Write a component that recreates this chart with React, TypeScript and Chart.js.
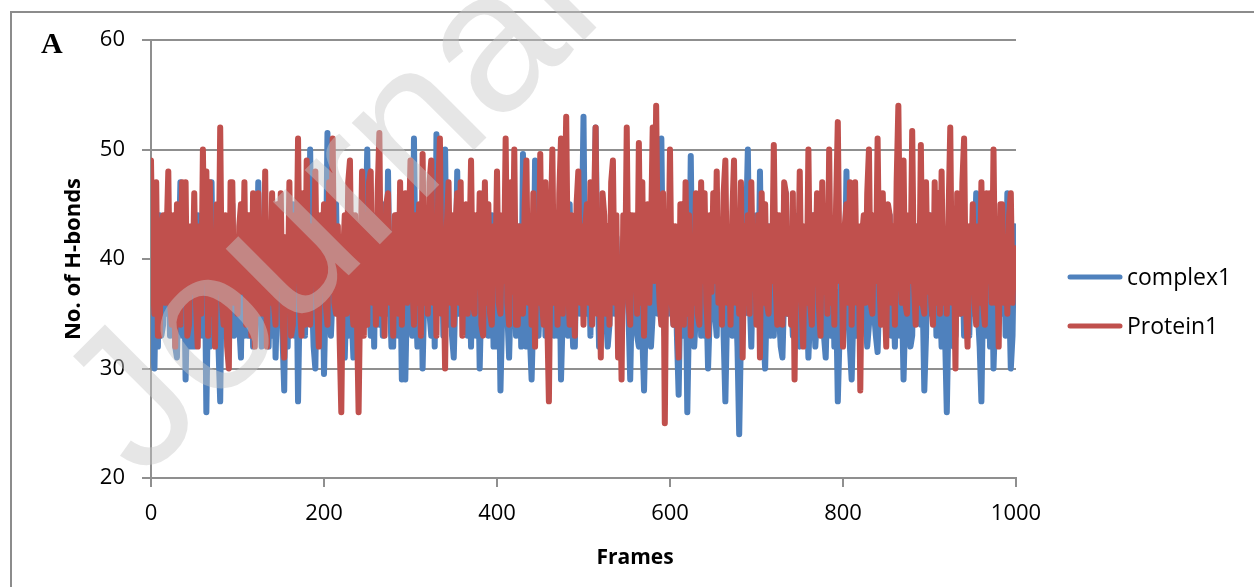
import React, { useEffect, useRef } from "react";
import { Chart, registerables } from "chart.js";

Chart.register(...registerables);

// Frames sampled every 2 frames (0..1000)
const FRAMES: number[] = Array.from({ length: 501 }, (_, i) => i * 2);

const X_TICKS = [0, 200, 400, 600, 800, 1000];
const Y_TICKS = [20, 30, 40, 50, 60];

const COMPLEX1: number[] = [
  37, 32, 30, 40, 32, 44, 33, 34, 43, 35, 44, 33, 35, 43, 32, 31, 40, 47, 33, 42, 29, 37, 42, 32, 43,
  32, 42, 44, 33, 40, 33, 42, 26, 37, 32, 47, 35, 37, 44, 32, 27, 40, 43, 33, 42, 32, 43, 45, 33, 40,
  37, 34, 31, 42, 33, 44, 33, 33, 43, 32, 43, 35, 47, 37, 32, 34, 42, 43, 32, 40, 33, 43, 31, 37, 42,
  44, 33, 28, 40, 32, 42, 35, 45, 33, 42, 27, 37, 40, 44, 33, 44, 35, 50, 37, 32, 30, 40, 43, 33, 42,
  29.5, 37, 51.5, 40, 33, 37, 43, 45, 35, 42, 32, 42, 31, 37, 33, 43, 35, 31, 40, 32, 42, 33, 44, 35, 42,
  50, 37, 33, 43, 32, 44, 35, 34, 42, 33, 45, 35, 48, 37, 32, 32, 42, 44, 33, 40, 29, 35, 29, 37, 42,
  42, 33, 51, 37, 32, 35, 43, 30, 37, 42, 44, 35, 33, 43, 32, 51.4, 37, 37, 43, 33, 50, 37, 34, 40, 33,
  31, 37, 48, 35, 42, 35, 43, 43, 33, 40, 32, 42, 43, 33, 40, 30, 37, 46, 35, 42, 33, 42, 44, 32, 40,
  32, 40, 28, 35, 42, 44, 35, 31, 37, 43, 42, 33, 35, 43, 32, 49.6, 37, 32, 42, 33, 29, 35, 49, 37, 33,
  37, 43, 44, 33, 40, 34, 42, 44, 33, 40, 33, 42, 29, 35, 43, 42, 33, 45, 37, 32, 32, 42, 43, 35, 42,
  53, 37, 35, 43, 33, 44, 37, 52, 40, 32, 33, 42, 43, 35, 32, 34, 40, 45, 35, 42, 37, 32, 33, 40, 43,
  44, 35, 29, 37, 43, 42, 33, 32, 40, 33, 28, 35, 44, 37, 32, 35, 42, 44, 35, 40, 51, 37, 33, 42, 35,
  43, 37, 34, 40, 33, 27.6, 37, 43, 33, 40, 26, 35, 49.4, 37, 32, 35, 42, 44, 33, 40, 33, 37, 30, 35, 42,
  44, 35, 33, 42, 37, 43, 33, 27, 35, 42, 37, 33, 43, 37, 32, 24, 33, 42, 35, 43, 50, 37, 32, 40, 35,
  44, 35, 48, 37, 33, 30, 37, 43, 33, 40, 33, 42, 43, 35, 32, 31, 37, 46, 35, 42, 37, 33, 44, 37, 33,
  32, 40, 42, 33, 37, 31, 35, 44, 37, 32, 35, 42, 44, 35, 33, 31, 37, 40, 33, 42, 32, 37, 27, 33, 42,
  43, 37, 48, 35, 32, 29, 35, 42, 33, 40, 33, 42, 43, 35, 32, 34, 40, 43, 35, 33, 31.5, 37, 44, 35, 42,
  35, 40, 44, 33, 37, 32, 40, 42, 33, 37, 29, 35, 43, 37, 32, 33, 42, 43, 35, 40, 34, 37, 28, 33, 42,
  44, 35, 35, 42, 33, 46, 37, 32, 40, 33, 26, 35, 43, 37, 32, 33, 42, 43, 35, 40, 33, 37, 42, 33, 40,
  35, 40, 46, 35, 32, 27, 37, 43, 33, 40, 32, 42, 30, 35, 42, 43, 37, 35, 42, 33, 46, 37, 30, 33, 43,
  41,
];

const PROTEIN1: number[] = [
  49, 38, 35, 47, 33, 33, 43, 44, 36, 42, 48, 36, 34, 44, 32, 45, 38, 34, 47, 36, 47, 33, 34, 43, 37,
  46, 36, 32, 43, 35, 50, 38, 48, 33, 47, 35, 42, 32, 45, 37, 52, 36, 34, 44, 32, 30, 47, 47, 36, 42,
  35, 43, 45, 37, 47, 34, 44, 44, 33, 46, 32, 42, 46, 35, 40, 35, 48, 32, 43, 36, 46, 36, 34, 45, 38,
  46, 35, 31, 42, 36, 47, 33, 34, 44, 38, 51, 36, 33, 46, 34, 49, 35, 34, 43, 38, 48, 36, 32, 44, 39,
  45, 36, 34, 47, 37, 51, 36, 35, 43, 33, 26, 40, 44, 35, 47, 49, 36, 34, 44, 35, 26, 38, 48, 33, 44,
  34, 47, 48, 36, 43, 34, 46, 51.5, 35, 42, 33, 45, 46, 36, 40, 33, 44, 44, 35, 47, 34, 43, 46, 36, 42,
  49, 38, 34, 44, 36, 45, 33, 49.6, 36, 43, 35, 47, 49, 36, 42, 33, 46, 51, 35, 40, 30, 43, 47, 36, 44,
  34, 43, 46, 36, 47, 33, 44, 45, 35, 40, 49, 36, 35, 44, 38, 46, 34, 33, 47, 36, 45, 35, 34, 43, 38,
  48, 36, 35, 44, 38, 51, 36, 34, 47, 37, 50, 34, 34, 43, 36, 35, 45, 49, 36, 42, 34, 46, 32, 43, 36,
  49.6, 36, 34, 47, 35, 27, 42, 50, 36, 44, 34, 46, 51, 35, 43, 53, 38, 34, 44, 37, 33, 45, 48, 36, 43,
  34, 43, 45, 36, 47, 34, 44, 52, 35, 42, 31, 46, 44, 35, 43, 34, 47, 49, 36, 44, 31, 40, 29, 44, 37,
  52, 36, 34, 44, 38, 44, 35, 50.6, 36, 47, 33, 43, 45, 36, 42, 52, 38, 54, 40, 36, 34, 46, 25, 43, 38,
  50, 36, 34, 43, 36, 31, 45, 45, 34, 47, 35, 44, 33, 42, 36, 46, 35, 34, 47, 38, 46, 36, 33, 44, 37,
  46, 38, 48, 36, 43, 34, 46, 49, 36, 42, 34, 44, 49, 36, 40, 35, 47, 31, 43, 36, 44, 35, 47, 38, 43,
  34, 44, 31, 46, 36, 45, 36, 35, 43, 38, 50.4, 38, 34, 44, 36, 34, 47, 46, 35, 42, 34, 46, 29, 43, 38,
  48, 36, 32, 43, 36, 50, 36, 34, 44, 38, 46, 36, 33, 47, 37, 44, 35, 50, 36, 43, 34, 45, 52.5, 38, 42,
  32, 43, 45, 36, 47, 34, 44, 47, 36, 43, 28, 42, 44, 36, 46, 50, 36, 35, 44, 38, 51, 38, 34, 46, 37,
  32, 45, 44, 36, 43, 34, 47, 54, 40, 36, 49, 36, 35, 44, 38, 51.7, 38, 34, 43, 36, 50.4, 36, 35, 47, 37,
  44, 36, 34, 47, 36, 46, 35, 48, 36, 42, 35, 44, 52, 36, 43, 30, 46, 44, 35, 47, 51, 36, 32, 43, 38,
  45, 36, 34, 43, 36, 47, 36, 34, 46, 38, 46, 36, 50, 36, 43, 32, 45, 45, 36, 42, 35, 44, 46, 36, 41,
  38,
];

const SERIES_NAMES = ["complex1", "Protein1"];
const SERIES_COLORS = ["#4F81BD", "#C0504D"];
const X_TITLE = "Frames";
const Y_TITLE = "No. of H-bonds";

const FONT = "'Open Sans', 'Liberation Sans', sans-serif";
const GRID = "#8f8f8f";

const decorPlugin = {
  id: "decor",
  beforeDraw(chart: any) {
    const ctx = chart.ctx;
    ctx.save();
    ctx.fillStyle = "#ffffff";
    ctx.fillRect(0, 0, chart.width, chart.height);
    ctx.strokeStyle = "#8c8c8c";
    ctx.lineWidth = 2;
    ctx.strokeRect(11, 12, chart.width + 40, chart.height + 40);
    ctx.restore();
  },
  afterDraw(chart: any) {
    const ctx = chart.ctx;
    ctx.save();
    // panel letter
    ctx.fillStyle = "#000";
    ctx.font = "bold 30px 'Liberation Serif', 'DejaVu Serif', serif";
    ctx.textBaseline = "alphabetic";
    ctx.textAlign = "left";
    ctx.fillText("A", 41, 53);

    // x axis title
    ctx.font = `bold 21px ${FONT}`;
    ctx.textAlign = "center";
    ctx.textBaseline = "middle";
    ctx.fillText(X_TITLE, 635, 558);

    // legend
    const items = [
      { y: 277, name: SERIES_NAMES[0], color: SERIES_COLORS[0] },
      { y: 326, name: SERIES_NAMES[1], color: SERIES_COLORS[1] },
    ];
    ctx.textAlign = "left";
    items.forEach((it) => {
      ctx.strokeStyle = it.color;
      ctx.lineWidth = 5;
      ctx.lineCap = "round";
      ctx.beginPath();
      ctx.moveTo(1070, it.y);
      ctx.lineTo(1120, it.y);
      ctx.stroke();
      ctx.fillStyle = "#000";
      ctx.font = `23px ${FONT}`;
      ctx.textBaseline = "middle";
      ctx.fillText(it.name, 1127, it.y + 1);
    });

    // watermark
    ctx.translate(142, 482);
    ctx.rotate(-Math.PI / 4);
    ctx.font = "200px 'Liberation Sans', Arial, sans-serif";
    ctx.fillStyle = "rgba(200,200,200,0.45)";
    ctx.textBaseline = "alphabetic";
    ctx.fillText("Journal Pre-proof", 0, 0);
    ctx.restore();
  },
};

export default function App() {
  const ref = useRef<HTMLCanvasElement | null>(null);

  useEffect(() => {
    if (!ref.current) return;
    const mk = (name: string, color: string, values: number[], order: number) => ({
      label: name,
      data: FRAMES.map((f, i) => ({ x: f, y: values[i] })),
      borderColor: color,
      backgroundColor: color,
      borderWidth: 6,
      pointRadius: 0,
      borderJoinStyle: "round",
      borderCapStyle: "round",
      tension: 0,
      order,
    });
    const chart = new Chart(ref.current, {
      type: "line",
      data: {
        datasets: [
          mk(SERIES_NAMES[0], SERIES_COLORS[0], COMPLEX1, 1),
          mk(SERIES_NAMES[1], SERIES_COLORS[1], PROTEIN1, 0),
        ],
      },
      options: {
        animation: false,
        responsive: false,
        devicePixelRatio: 1,
        layout: { padding: { top: 40, right: 238, bottom: 0, left: 0 } },
        plugins: {
          legend: { display: false },
          tooltip: { enabled: false },
        },
        scales: {
          x: {
            type: "linear",
            min: 0,
            max: 1000,
            afterFit: (s: any) => {
              s.height = 109;
            },
            afterBuildTicks: (s: any) => {
              s.ticks = X_TICKS.map((v) => ({ value: v }));
            },
            ticks: {
              color: "#000",
              padding: 14,
              font: { size: 22, family: FONT },
              maxRotation: 0,
              callback: (v: any) => String(v),
            },
            grid: {
              drawOnChartArea: false,
              drawTicks: true,
              tickLength: 9,
              color: GRID,
              lineWidth: 2,
            },
            border: { display: true, color: GRID, width: 2 },
            title: { display: false },
          },
          y: {
            type: "linear",
            min: 20,
            max: 60,
            afterFit: (s: any) => {
              s.width = 151;
            },
            afterBuildTicks: (s: any) => {
              s.ticks = Y_TICKS.map((v) => ({ value: v }));
            },
            ticks: {
              color: "#000",
              padding: 17,
              font: { size: 22, family: FONT },
              callback: (v: any) => String(v),
            },
            grid: {
              drawTicks: true,
              tickLength: 9,
              color: GRID,
              lineWidth: 2,
            },
            border: { display: true, color: GRID, width: 2 },
            title: {
              display: true,
              text: Y_TITLE,
              color: "#000",
              font: { size: 22, weight: "bold", family: FONT },
              padding: { top: 61, bottom: 0 },
            },
          },
        },
      },
      plugins: [decorPlugin],
    } as any);
    return () => chart.destroy();
  }, []);

  return (
    <div style={{ position: "fixed", left: 0, top: 0, width: 1254, height: 587, background: "#fff" }}>
      <canvas ref={ref} width={1254} height={587} style={{ display: "block" }} />
    </div>
  );
}
